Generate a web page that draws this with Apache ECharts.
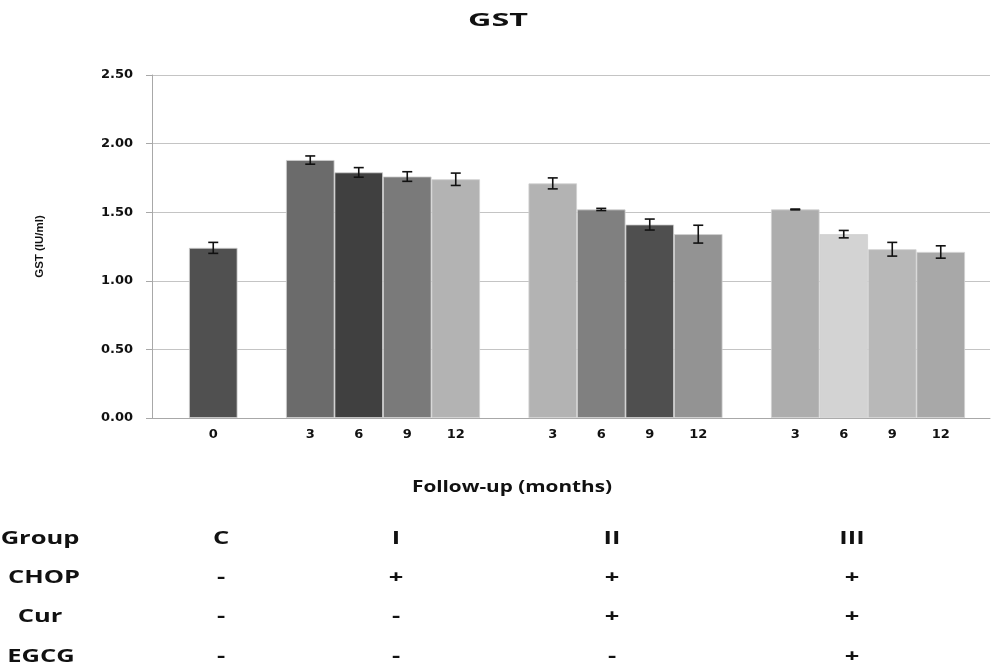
<!DOCTYPE html>
<html><head><meta charset="utf-8">
<script src="https://cdn.jsdelivr.net/npm/echarts@6/dist/echarts.min.js"></script>
<style>html,body{margin:0;padding:0;background:#fff}#c{width:992px;height:667px}</style>
</head><body><div id="c"></div>
<script>
// Data
const categories = ['0','', '3','6','9','12','', '3','6','9','12','', '3','6','9','12'];
const values =     [1.24,null,1.88,1.79,1.76,1.74,null,1.71,1.52,1.41,1.34,null,1.52,1.34,1.23,1.21];
const errors =     [0.04,null,0.03,0.035,0.035,0.045,null,0.04,0.008,0.04,0.065,null,0.003,0.027,0.05,0.045];
const barColors =  ['#505050',null,'#6b6b6b','#404040','#7a7a7a','#b3b3b3',null,'#b3b3b3','#808080','#4f4f4f','#939393',null,'#adadad','#d3d3d3','#b8b8b8','#a8a8a8'];
const yTicks = [0, 0.5, 1.0, 1.5, 2.0, 2.5];
const titleText = 'GST';
const xTitle = 'Follow-up (months)';
const yTitle = 'GST (IU/ml)';
const rowLabels = ['Group','CHOP','Cur','EGCG'];
const groupNames = ['C','I','II','III'];
const chop = ['-','+','+','+'];
const cur = ['-','-','+','+'];
const egcg = ['-','-','-','+'];

const chart = echarts.init(document.getElementById('c'));
const barData = values.map((v,i)=> v==null ? null : {value:v, itemStyle:{color:barColors[i]}});
const errData = [];
values.forEach((v,i)=>{ if(v!=null) errData.push([i, v, errors[i]]); });

const ctx = document.createElement('canvas').getContext('2d');
function stretchedText(text, font, x, y, targetWidth, scale){
  let s = scale || 1;
  if (targetWidth){ ctx.font = font; s = targetWidth / ctx.measureText(text).width; }
  return {type:'text', x:x, y:y, scaleX:s, style:{text:text, font:font, fill:'#111', align:'center', verticalAlign:'middle'}};
}

const tableRows = [groupNames, chop, cur, egcg];
const colX = [221, 396, 612, 852];
const rowY = [539, 578, 617, 657];
const labelX = [40, 44, 40, 41];
const tFont = 'bold 17px "Open Sans"';
const graphics = [];
graphics.push(stretchedText(titleText, 'bold 18px "Open Sans"', 498, 21, 60));
graphics.push(stretchedText(xTitle, 'bold 16px "Open Sans"', 512, 487, 200));
rowLabels.forEach((t,r)=>{
  graphics.push(stretchedText(t, tFont, labelX[r], rowY[r], null, 1.5));
  tableRows[r].forEach((s,c)=>{
    graphics.push(stretchedText(s, tFont, colX[c], rowY[r], null, 1.5));
  });
});

chart.setOption({
  animation:false,
  grid:[
    {left:189, top:75, width:776, height:343},
    {left:152, top:75, right:2, height:343}
  ],
  xAxis:[
    {gridIndex:0, type:'category', data:categories, axisLine:{show:false}, axisTick:{show:false},
     axisLabel:{margin:10, fontFamily:'DejaVu Sans', fontWeight:'bold', fontSize:13, color:'#111', interval:0}},
    {gridIndex:1, type:'value', min:0, max:1, axisLine:{show:true, lineStyle:{color:'#a8a8a8'}}, axisTick:{show:false}, axisLabel:{show:false}, splitLine:{show:false}}
  ],
  yAxis:[
    {gridIndex:0, type:'value', min:0, max:2.5, interval:0.5, show:false},
    {gridIndex:1, type:'value', min:yTicks[0], max:yTicks[yTicks.length-1], interval:0.5,
     axisLine:{show:true, lineStyle:{color:'#a8a8a8'}}, axisTick:{show:true, length:6, lineStyle:{color:'#a8a8a8'}},
     splitLine:{show:true, lineStyle:{color:'#c4c4c4'}},
     axisLabel:{margin:19, formatter:v=>v.toFixed(2), fontFamily:'DejaVu Sans', fontWeight:'bold', fontSize:13, color:'#111'},
     name:yTitle, nameLocation:'middle', nameGap:106, nameRotate:90,
     nameTextStyle:{fontFamily:'Liberation Sans Narrow, Liberation Sans', fontWeight:'bold', fontSize:11.5, color:'#111'}}
  ],
  series:[
    {type:'bar', xAxisIndex:0, yAxisIndex:0, data:barData, barCategoryGap:'0%', barWidth:'100%',
     itemStyle:{borderColor:'#d0d0d0', borderWidth:0.8}},
    {type:'custom', xAxisIndex:0, yAxisIndex:0, data:errData, z:5,
     renderItem:function(params, api){
       const x = api.value(0), v = api.value(1), e = api.value(2);
       const hi = api.coord([x, v+e]), lo = api.coord([x, v-e]);
       const cw = 5;
       const st = {stroke:'#111', lineWidth:1.6};
       return {type:'group', children:[
         {type:'line', shape:{x1:hi[0], y1:hi[1], x2:lo[0], y2:lo[1]}, style:st},
         {type:'line', shape:{x1:hi[0]-cw, y1:hi[1], x2:hi[0]+cw, y2:hi[1]}, style:st},
         {type:'line', shape:{x1:lo[0]-cw, y1:lo[1], x2:lo[0]+cw, y2:lo[1]}, style:st}
       ]};
     }}
  ],
  graphic: graphics
});
</script></body></html>
